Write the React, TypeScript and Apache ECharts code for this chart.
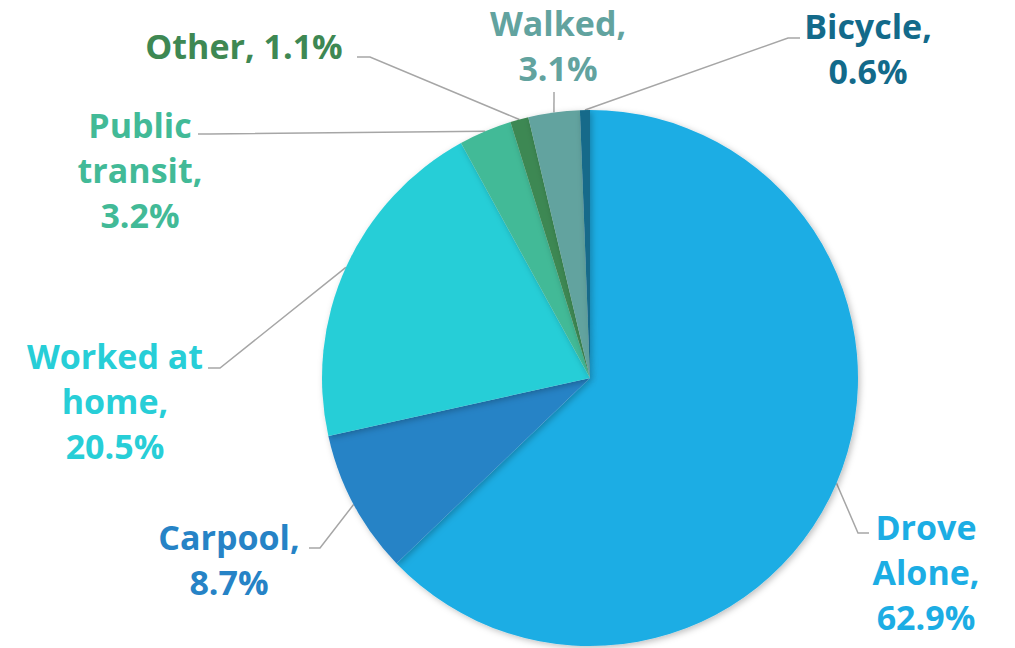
import React, { useEffect, useRef } from "react";
import * as echarts from "echarts";

const categories = ["Drove Alone", "Carpool", "Worked at home", "Public transit", "Other", "Walked", "Bicycle"];
const values = [62.9, 8.7, 20.5, 3.2, 1.1, 3.1, 0.6];
const labelNames = ["Drove\nAlone", "Carpool", "Worked at\nhome", "Public\ntransit", "Other", "Walked", "Bicycle"];
const labelSeparators = ["\n", "\n", "\n", "\n", " ", "\n", "\n"];
const colors = ["#1CADE4", "#2683C6", "#27CED7", "#42BA97", "#3E8853", "#62A39F", "#136A8A"];

const CX = 590;
const CY = 378;
const R = 268;

// label block centers and label-line bend points (layout only)
const labelPlacement: { x: number; y: number; line: number[][] }[] = [
  { x: 926, y: 572, line: [[858, 533], [869, 533]] },
  { x: 229, y: 559, line: [[320, 548], [309, 548]] },
  { x: 115, y: 401, line: [[220, 368], [208, 368]] },
  { x: 140, y: 170, line: [[210, 134], [198, 134]] },
  { x: 244, y: 46, line: [[370, 57], [357, 57]] },
  { x: 558, y: 45, line: [[554, 92]] },
  { x: 868, y: 48, line: [[788, 38], [800, 38]] },
];

export default function App() {
  const ref = useRef<HTMLDivElement>(null);
  useEffect(() => {
    document.body.style.margin = "0";
    const chart = echarts.init(ref.current!, undefined, { renderer: "svg" });
    const total = values.reduce((a, b) => a + b, 0);
    const anchors: number[][] = [];
    let cum = 0;
    values.forEach((v) => {
      const mid = ((cum + v / 2) / total) * Math.PI * 2;
      anchors.push([CX + R * Math.sin(mid), CY - R * Math.cos(mid)]);
      cum += v;
    });
    chart.setOption({
      animation: false,
      backgroundColor: "#ffffff",
      series: [
        {
          type: "pie",
          center: [CX, CY],
          radius: R,
          startAngle: 90,
          clockwise: true,
          avoidLabelOverlap: false,
          itemStyle: {
            shadowBlur: 6,
            shadowOffsetX: 2,
            shadowOffsetY: 2,
            shadowColor: "rgba(0,0,0,0.25)",
          },
          label: {
            show: true,
            position: "outside",
            fontFamily: "Open Sans",
            fontWeight: "bold",
            fontSize: 34,
            lineHeight: 45,
            formatter: (p: any) =>
              `${labelNames[p.dataIndex]},${labelSeparators[p.dataIndex]}${values[p.dataIndex].toFixed(1)}%`,
          },
          labelLine: {
            show: true,
            lineStyle: { color: "#A6A6A6", width: 1.5 },
          },
          labelLayout: (params: any) => {
            const i = params.dataIndex;
            const pl = labelPlacement[i];
            return {
              x: pl.x,
              y: pl.y,
              align: "center",
              verticalAlign: "middle",
              labelLinePoints: [anchors[i], ...pl.line],
            };
          },
          data: categories.map((c, i) => ({
            name: c,
            value: values[i],
            itemStyle: { color: colors[i] },
            label: { color: colors[i] },
          })),
        },
      ],
    });
    return () => chart.dispose();
  }, []);
  return <div ref={ref} style={{ width: 1015, height: 648 }} />;
}
